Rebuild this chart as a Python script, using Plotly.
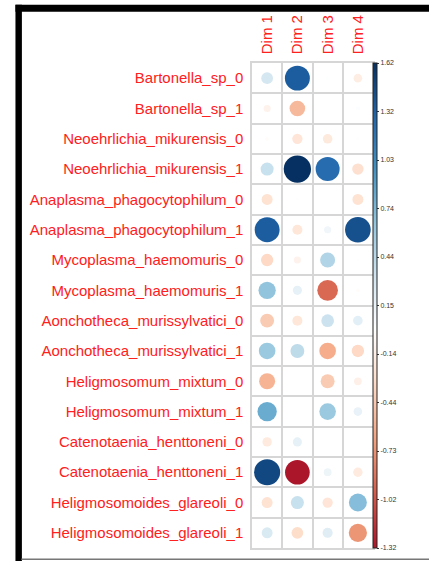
import numpy as np
import plotly.graph_objects as go
from plotly.colors import sample_colorscale

# Row (variable) and column (dimension) names
variables = [
    "Bartonella_sp_0", "Bartonella_sp_1",
    "Neoehrlichia_mikurensis_0", "Neoehrlichia_mikurensis_1",
    "Anaplasma_phagocytophilum_0", "Anaplasma_phagocytophilum_1",
    "Mycoplasma_haemomuris_0", "Mycoplasma_haemomuris_1",
    "Aonchotheca_murissylvatici_0", "Aonchotheca_murissylvatici_1",
    "Heligmosomum_mixtum_0", "Heligmosomum_mixtum_1",
    "Catenotaenia_henttoneni_0", "Catenotaenia_henttoneni_1",
    "Heligmosomoides_glareoli_0", "Heligmosomoides_glareoli_1",
]
dims = ["Dim 1", "Dim 2", "Dim 3", "Dim 4"]

# Coordinates of each category on the four dimensions (one list per dimension)
dim1 = [0.30, -0.11, -0.03, 0.37, -0.26, 1.35, -0.33, 0.65,
        -0.42, 0.60, -0.56, 0.81, -0.19, 1.48, -0.26, 0.26]
dim2 = [1.35, -0.53, -0.23, 1.62, 0.01, -0.22, -0.11, 0.18,
        -0.22, 0.42, 0.00, 0.00, 0.18, -1.32, 0.37, -0.30]
dim3 = [0.02, 0.01, -0.20, 1.25, -0.01, 0.11, 0.49, -0.93,
        0.35, -0.60, -0.42, 0.60, 0.00, 0.13, -0.23, 0.22]
dim4 = [-0.16, 0.03, 0.02, -0.28, -0.26, 1.43, 0.01, -0.03,
        0.20, -0.33, -0.13, 0.16, 0.00, -0.19, 0.70, -0.72]

# Colour legend limits and its tick labels
cmin, cmax = -1.32, 1.62
legend_ticks = ["-1.32", "-1.02", "-0.73", "-0.44", "-0.14", "0.15",
                "0.44", "0.74", "1.03", "1.32", "1.62"]

# corrplot-style red/blue diverging palette, centred on zero
palette = ["#67001F", "#B2182B", "#D6604D", "#F4A582", "#FDDBC7", "#FFFFFF",
           "#D1E5F0", "#92C5DE", "#4393C3", "#2166AC", "#053061"]
base_scale = [[i / (len(palette) - 1), c] for i, c in enumerate(palette)]
vmax = max(abs(cmin), abs(cmax))
stops = np.linspace(0, 1, 61)
stop_vals = cmin + stops * (cmax - cmin)
stop_cols = sample_colorscale(base_scale, list((stop_vals / vmax + 1) / 2))
colorscale = [[float(p), c] for p, c in zip(stops, stop_cols)]

W, H = 429, 561
ML, MR, MT, MB = 251.5, 55.5, 63.3, 12.5
plot_w = W - ML - MR
plot_h = H - MT - MB
cell = min(plot_w / len(dims), plot_h / len(variables))

cols = [dim1, dim2, dim3, dim4]
xs, ys, vals = [], [], []
for j, col in enumerate(cols):
    for i, v in enumerate(col):
        xs.append(j + 1)
        ys.append(i + 1)
        vals.append(v)
vals = np.array(vals)

# circle area proportional to |value| / largest absolute value
sizes = 0.9 * cell * np.sqrt(np.abs(vals) / vmax)

fig = go.Figure()
fig.add_trace(go.Scatter(
    x=xs, y=ys, mode="markers",
    marker=dict(
        size=sizes, color=vals, cmin=cmin, cmax=cmax,
        colorscale=colorscale, line=dict(width=0), opacity=1,
        colorbar=dict(
            x=1.0 + 0.5 / plot_w, xanchor="left", xpad=0,
            y=0.5, yanchor="middle", len=1, lenmode="fraction", ypad=0,
            thickness=4, outlinewidth=1, outlinecolor="#222222",
            tickvals=list(np.linspace(cmin, cmax, len(legend_ticks))),
            ticktext=legend_ticks,
            ticks="outside", ticklen=2, tickcolor="#333333",
            tickfont=dict(size=7, color="#333333",
                          family="Liberation Sans, Arial, sans-serif"),
        ),
    ),
    hoverinfo="skip", showlegend=False,
))

label_font = dict(size=15, color="#FF2020",
                  family="Liberation Sans, Arial, sans-serif")
grid = "#D6D6D6"

fig.update_xaxes(
    range=[0.5, len(dims) + 0.5], side="top",
    tickvals=list(range(1, len(dims) + 1)), ticktext=dims,
    tickangle=-90, tickfont=label_font, ticks="", ticklabelstandoff=4,
    showgrid=False, zeroline=False,
    minor=dict(tick0=0.5, dtick=1, showgrid=True, gridcolor=grid, gridwidth=1.5),
    showline=True, mirror=True, linecolor=grid, linewidth=1.5,
    automargin=False, fixedrange=True,
)
fig.update_yaxes(
    range=[len(variables) + 0.5, 0.5],
    tickvals=list(range(1, len(variables) + 1)), ticktext=variables,
    tickfont=label_font, ticks="", ticklabelstandoff=4,
    showgrid=False, zeroline=False,
    minor=dict(tick0=0.5, dtick=1, showgrid=True, gridcolor=grid, gridwidth=1.5),
    showline=True, mirror=True, linecolor=grid, linewidth=1.5,
    automargin=False, fixedrange=True,
)


def px_x(p):
    return (p - ML) / plot_w


def px_y(p):
    return (H - MB - p) / plot_h


# Black frame around the panel (top and left) and thin grey bottom edge
frame = [
    dict(x0=px_x(13), x1=px_x(W + 2), y0=px_y(12), y1=px_y(5)),
    dict(x0=px_x(13), x1=px_x(19.5), y0=px_y(H + 2), y1=px_y(5)),
]
for f in frame:
    fig.add_shape(type="rect", xref="paper", yref="paper", fillcolor="black",
                  line=dict(width=0), layer="above", **f)
fig.add_shape(type="line", xref="paper", yref="paper",
              x0=px_x(19), x1=px_x(W + 2), y0=px_y(559.8), y1=px_y(559.8),
              line=dict(color="#777777", width=1.5), layer="above")

fig.update_layout(
    width=W, height=H,
    margin=dict(l=ML, r=MR, t=MT, b=MB, autoexpand=False),
    paper_bgcolor="white", plot_bgcolor="white",
    showlegend=False,
)

fig.write_html("out.html", config={"displayModeBar": False})
